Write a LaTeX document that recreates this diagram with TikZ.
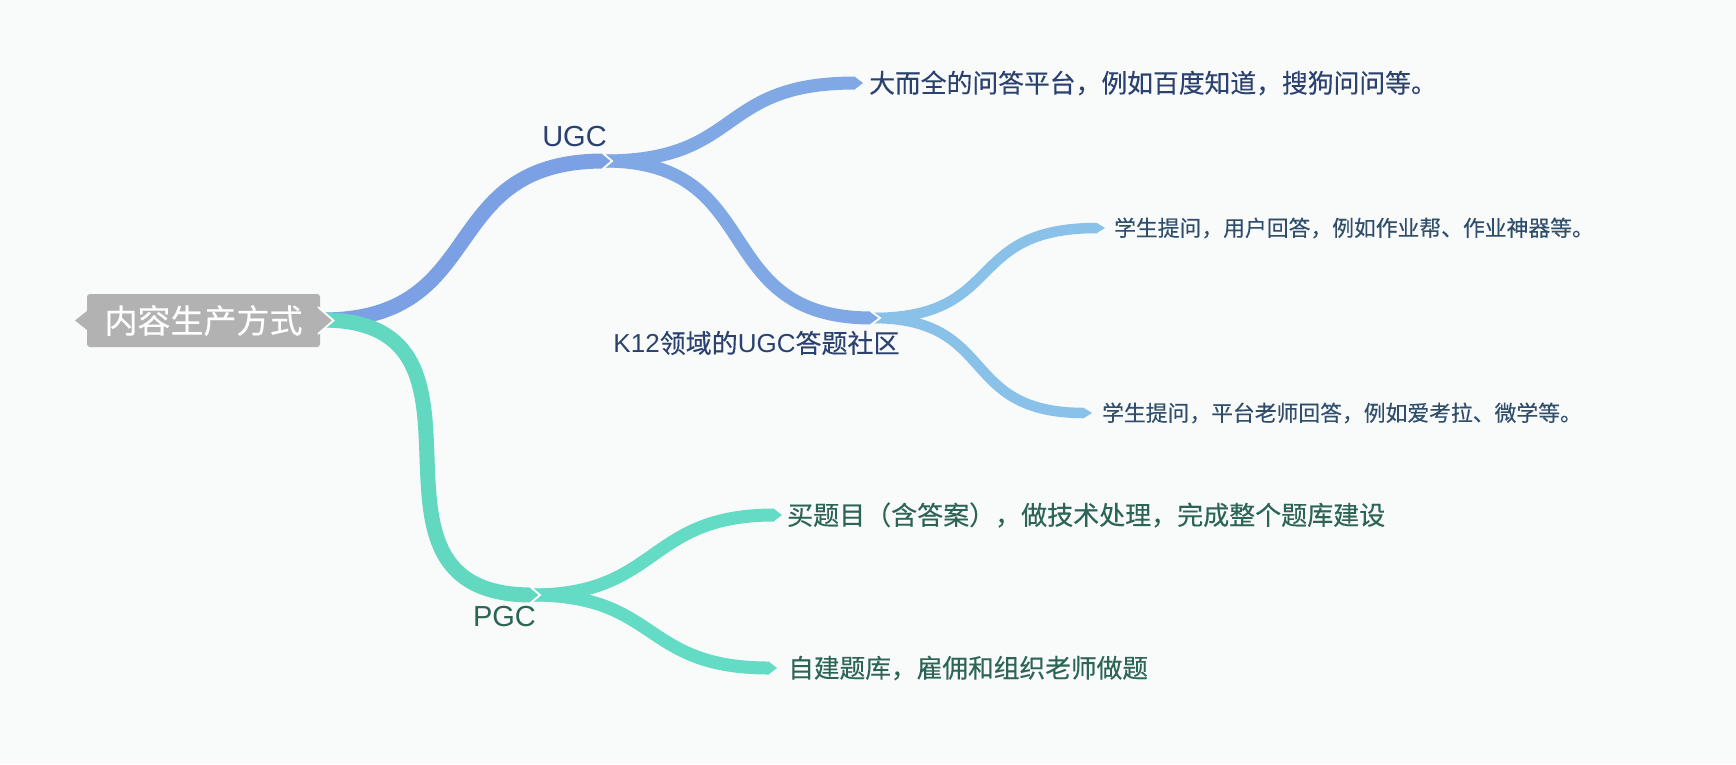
\documentclass[tikz,border=0pt]{standalone}
\usepackage{fontspec}
\setmainfont{Liberation Sans}
\newfontfamily\cjk[FakeBold=0.3]{Noto Sans CJK SC}
\usetikzlibrary{calc}
\definecolor{bg}{RGB}{249,250,250}
\definecolor{rootgray}{RGB}{178,178,178}
\definecolor{blueA}{RGB}{123,160,227}
\definecolor{blueB}{RGB}{128,168,229}
\definecolor{blueC}{RGB}{137,193,233}
\definecolor{tealA}{RGB}{99,216,192}
\definecolor{tealB}{RGB}{100,219,196}
\definecolor{navyT}{RGB}{43,66,112}
\definecolor{slateT}{RGB}{48,78,108}
\definecolor{greenT}{RGB}{44,100,86}
% #1 colour, #2 width, #3 start, #4 tip, #5 control offset
\newcommand\mmband[5]{\draw[#1, line width=#2pt] (#3) .. controls ($(#3)+(#5,0)$) and ($(#4)+(-8-#5,0)$) .. ($(#4)+(-8,0)$);}
\newcommand\mmtip[3]{\fill[#1] ($(#3)+(-8.5,-#2/2)$) -- (#3) -- ($(#3)+(-8.5,#2/2)$) -- cycle;
  \draw[white, line width=1.8pt, line join=miter] ($(#3)+(-9.5,-#2/2-0.6)$) -- (#3) -- ($(#3)+(-9.5,#2/2+0.6)$);}
\newcommand\mmleaf[3]{\fill[#1] ($(#3)+(-8.5,-#2/2)$) -- (#3) -- ($(#3)+(-8.5,#2/2)$) -- cycle;}
\tikzset{
  leaftext/.style={anchor=west, inner sep=0pt},
  midtext/.style={inner sep=0pt},
}
\begin{document}
\begin{tikzpicture}[x=1pt,y=-1pt]
\useasboundingbox (0,0) rectangle (1736,764);
\fill[bg] (0,0) rectangle (1736,764);
% named points
\coordinate (s0) at (322,320);
\coordinate (tU) at (612,161);
\coordinate (tP) at (540,595);
\coordinate (tA) at (863,83);
\coordinate (tK) at (880,318);
\coordinate (tL1) at (1105,228);
\coordinate (tL2) at (1092,413);
\coordinate (tB1) at (782,515);
\coordinate (tB2) at (777,668);
\coordinate (sU) at ($(tU)+(-8,0)$);
\coordinate (sK) at ($(tK)+(-8,0)$);
\coordinate (sP) at ($(tP)+(-8,0)$);
% bands
\mmband{blueC}{10.5}{sK}{tL1}{135}
\mmband{blueC}{10.5}{sK}{tL2}{127}
\mmband{blueB}{13}{sU}{tA}{140}
\mmband{blueB}{13}{sU}{tK}{165}
\mmband{tealB}{13}{sP}{tB1}{128}
\mmband{tealB}{13}{sP}{tB2}{128}
\mmband{blueA}{15}{s0}{tU}{170}
\mmband{tealA}{15}{s0}{tP}{200}
% tips
\mmleaf{blueC}{10.5}{tL1}
\mmleaf{blueC}{10.5}{tL2}
\mmleaf{blueB}{13}{tA}
\mmleaf{tealB}{13}{tB1}
\mmleaf{tealB}{13}{tB2}
\mmtip{blueB}{13}{tK}
\mmtip{blueA}{15}{tU}
\mmtip{tealA}{15}{tP}
% root
\fill[rootgray] (87,311) -- (75,320.5) -- (87,330) -- cycle;
\node[fill=rootgray, rounded corners=3pt, minimum width=233pt, minimum height=53pt, inner sep=0pt,
      text=white, font=\cjk\fontsize{33}{37}\selectfont] (root) at (203.5,320.5) {内容生产方式};
\fill[rootgray] (319,308) -- (333,320.5) -- (319,333) -- cycle;
\draw[white, line width=1.8pt] (318,307) -- (333.5,320.5) -- (318,334);
% labels
\node[midtext, text=navyT, font=\fontsize{29}{34}\selectfont] (ugc) at (574.5,137) {UGC};
\node[midtext, text=greenT, font=\fontsize{29}{34}\selectfont] (pgc) at (504.5,617) {PGC};
\node[midtext, text=navyT, font=\fontsize{26}{30}\selectfont] (k12) at (756.5,343) {K12{\cjk 领域的}UGC{\cjk 答题社区}};
\node[leaftext, text=navyT, font=\cjk\fontsize{25.8}{30}\selectfont] (a) at (869,83) {大而全的问答平台，例如百度知道，搜狗问问等。};
\node[leaftext, text=slateT, font=\cjk\fontsize{21.8}{25}\selectfont] (l1) at (1114,228) {学生提问，用户回答，例如作业帮、作业神器等。};
\node[leaftext, text=slateT, font=\cjk\fontsize{21.8}{25}\selectfont] (l2) at (1102,413) {学生提问，平台老师回答，例如爱考拉、微学等。};
\node[leaftext, text=greenT, font=\cjk\fontsize{26}{30}\selectfont] (b1) at (787,515) {买题目（含答案），做技术处理，完成整个题库建设};
\node[leaftext, text=greenT, font=\cjk\fontsize{25.7}{30}\selectfont] (b2) at (788,668) {自建题库，雇佣和组织老师做题};
\end{tikzpicture}
\end{document}
